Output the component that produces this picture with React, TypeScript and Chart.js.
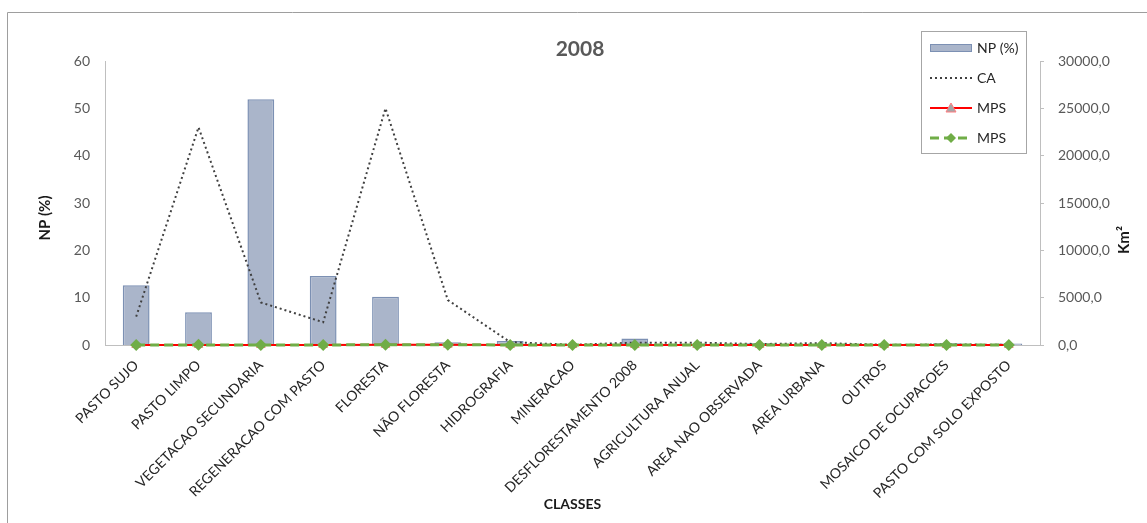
import React, { useEffect, useRef } from "react";
import { Chart, registerables } from "chart.js";

Chart.register(...registerables);

const TITLE = "2008";
const X_TITLE = "CLASSES";
const LEFT_TITLE = "NP (%)";
const RIGHT_TITLE = "Km²";

const CLASSES = [
  "PASTO SUJO",
  "PASTO LIMPO",
  "VEGETACAO SECUNDARIA",
  "REGENERACAO COM PASTO",
  "FLORESTA",
  "NÃO FLORESTA",
  "HIDROGRAFIA",
  "MINERACAO",
  "DESFLORESTAMENTO 2008",
  "AGRICULTURA ANUAL",
  "AREA NAO OBSERVADA",
  "AREA URBANA",
  "OUTROS",
  "MOSAICO DE OCUPACOES",
  "PASTO COM SOLO EXPOSTO",
];

// Number of patches, percent of total (left axis)
const NP = [12.6, 6.9, 51.9, 14.6, 10.2, 0.6, 0.85, 0.05, 1.35, 0.15, 0.35, 0.2, 0.2, 0.35, 0.3];

// Class area, km² (right axis)
const CA = [3000, 23000, 4500, 2400, 25000, 4750, 300, 20, 250, 250, 100, 200, 20, 50, 30];

// Mean patch size series (right axis)
const MPS_A = [4, 12, 2, 6, 20, 30, 3, 1, 2, 10, 3, 6, 1, 2, 1];
const MPS_B = [5, 14, 3, 7, 24, 35, 4, 1, 3, 12, 4, 7, 1, 2, 1];

const LEFT_TICKS = { min: 0, max: 60, step: 10 };
const RIGHT_TICKS = { min: 0, max: 30000, step: 5000 };

const FONT = "Lato";
const BAR_FILL = "rgb(170,181,202)";
const BAR_EDGE = "rgb(124,144,179)";
const CA_COLOR = "#404040";
const RED = "#ff0000";
const RED_MARK_FILL = "#a6a6a6";
const RED_MARK_EDGE = "#ff7c80";
const GREEN = "#70ad47";

const LEGEND_ITEMS = ["NP (%)", "CA", "MPS", "MPS"];

const overlay = {
  id: "overlay",
  afterDraw(chart: any) {
    const ctx: CanvasRenderingContext2D = chart.ctx;
    ctx.save();

    // outer frame
    ctx.strokeStyle = "#9e9e9e";
    ctx.lineWidth = 1;
    ctx.beginPath();
    ctx.moveTo(7.5, 523);
    ctx.lineTo(7.5, 12.5);
    ctx.lineTo(1147, 12.5);
    ctx.stroke();

    // chart title
    ctx.fillStyle = "#595959";
    ctx.font = `bold 21px ${FONT}`;
    ctx.textAlign = "center";
    ctx.textBaseline = "middle";
    ctx.fillText(TITLE, 580, 49);

    // axis titles (both read bottom to top)
    ctx.fillStyle = "#1a1a1a";
    ctx.font = `bold 15px ${FONT}`;
    ctx.save();
    ctx.translate(45, 218);
    ctx.rotate(-Math.PI / 2);
    ctx.fillText(LEFT_TITLE, 0, 0);
    ctx.restore();
    ctx.save();
    ctx.translate(1124, 240);
    ctx.rotate(-Math.PI / 2);
    ctx.fillText(RIGHT_TITLE, 0, 0);
    ctx.restore();

    // legend box
    ctx.strokeStyle = "#a6a6a6";
    ctx.strokeRect(921.5, 31.5, 105, 122);
    const rows = [48, 78, 108, 138];
    const x0 = 930;
    const x1 = 972;

    // NP swatch
    ctx.fillStyle = BAR_FILL;
    ctx.fillRect(x0, rows[0] - 4, x1 - x0, 8);
    ctx.strokeStyle = BAR_EDGE;
    ctx.lineWidth = 1;
    ctx.strokeRect(x0 + 0.5, rows[0] - 3.5, x1 - x0 - 1, 7);

    // CA swatch
    ctx.strokeStyle = CA_COLOR;
    ctx.lineWidth = 2;
    ctx.setLineDash([2, 3]);
    ctx.beginPath();
    ctx.moveTo(x0, rows[1]);
    ctx.lineTo(x1, rows[1]);
    ctx.stroke();
    ctx.setLineDash([]);

    // MPS red swatch
    ctx.strokeStyle = RED;
    ctx.lineWidth = 2;
    ctx.beginPath();
    ctx.moveTo(x0, rows[2]);
    ctx.lineTo(x1, rows[2]);
    ctx.stroke();
    ctx.fillStyle = RED_MARK_FILL;
    ctx.strokeStyle = RED_MARK_EDGE;
    ctx.lineWidth = 1;
    ctx.beginPath();
    ctx.moveTo(951, rows[2] - 5);
    ctx.lineTo(956, rows[2] + 4);
    ctx.lineTo(946, rows[2] + 4);
    ctx.closePath();
    ctx.fill();
    ctx.stroke();

    // MPS green swatch
    ctx.strokeStyle = GREEN;
    ctx.lineWidth = 3;
    ctx.setLineDash([9, 5]);
    ctx.beginPath();
    ctx.moveTo(x0, rows[3]);
    ctx.lineTo(x1, rows[3]);
    ctx.stroke();
    ctx.setLineDash([]);
    ctx.fillStyle = GREEN;
    ctx.beginPath();
    ctx.moveTo(951, rows[3] - 5);
    ctx.lineTo(956, rows[3]);
    ctx.lineTo(951, rows[3] + 5);
    ctx.lineTo(946, rows[3]);
    ctx.closePath();
    ctx.fill();

    // legend text
    ctx.fillStyle = "#262626";
    ctx.font = `14px ${FONT}`;
    ctx.textAlign = "left";
    ctx.textBaseline = "middle";
    LEGEND_ITEMS.forEach((t, i) => ctx.fillText(t, 977, rows[i]));

    ctx.restore();
  },
};

export default function App() {
  const ref = useRef<HTMLCanvasElement | null>(null);

  useEffect(() => {
    if (!ref.current) return;
    const chart = new Chart(ref.current, {
      type: "bar",
      data: {
        labels: CLASSES,
        datasets: [
          {
            type: "bar",
            label: "NP (%)",
            data: NP,
            yAxisID: "y",
            backgroundColor: BAR_FILL,
            borderColor: BAR_EDGE,
            borderWidth: 1.5,
            barPercentage: 0.43,
            categoryPercentage: 1,
            order: 4,
          },
          {
            type: "line",
            label: "CA",
            data: CA,
            yAxisID: "y1",
            borderColor: CA_COLOR,
            borderWidth: 2,
            borderDash: [2, 3],
            pointRadius: 0,
            tension: 0,
            fill: false,
            order: 3,
          },
          {
            type: "line",
            label: "MPS",
            data: MPS_A,
            yAxisID: "y1",
            borderColor: RED,
            borderWidth: 2,
            pointStyle: "triangle",
            pointRadius: 5,
            pointBackgroundColor: RED_MARK_FILL,
            pointBorderColor: RED_MARK_EDGE,
            pointBorderWidth: 1,
            tension: 0,
            fill: false,
            clip: false,
            order: 2,
          } as any,
          {
            type: "line",
            label: "MPS",
            data: MPS_B,
            yAxisID: "y1",
            borderColor: GREEN,
            borderWidth: 3,
            borderDash: [9, 5],
            pointStyle: "rectRot",
            pointRadius: 6,
            pointBackgroundColor: GREEN,
            pointBorderColor: GREEN,
            pointBorderWidth: 0,
            tension: 0,
            fill: false,
            clip: false,
            order: 1,
          } as any,
        ],
      },
      options: {
        responsive: false,
        animation: false,
        layout: { padding: { top: 61, left: 0, right: 0, bottom: 0 } },
        plugins: {
          legend: { display: false },
          title: { display: false },
          tooltip: { enabled: false },
        },
        scales: {
          x: {
            grid: { display: false },
            border: { display: true, color: "#bfbfbf", width: 1 },
            ticks: {
              autoSkip: false,
              maxRotation: 45,
              minRotation: 45,
              padding: 4,
              color: "#262626",
              font: { family: FONT, size: 14 },
            },
            title: {
              display: true,
              text: X_TITLE,
              color: "#1a1a1a",
              font: { family: FONT, size: 14, weight: "bold" },
              padding: { top: 0, bottom: 10 },
            },
            afterFit(s: any) {
              s.height = 178;
            },
          },
          y: {
            position: "left",
            min: LEFT_TICKS.min,
            max: LEFT_TICKS.max,
            grid: { display: false, drawTicks: false },
            border: { display: true, color: "#bfbfbf", width: 1 },
            ticks: {
              stepSize: LEFT_TICKS.step,
              padding: 15,
              color: "#595959",
              font: { family: FONT, size: 14 },
            },
            afterFit(s: any) {
              s.width = 105;
            },
          },
          y1: {
            position: "right",
            min: RIGHT_TICKS.min,
            max: RIGHT_TICKS.max,
            grid: {
              display: true,
              drawOnChartArea: false,
              drawTicks: true,
              tickLength: 4,
              color: "#bfbfbf",
            },
            border: { display: true, color: "#bfbfbf", width: 1 },
            ticks: {
              stepSize: RIGHT_TICKS.step,
              padding: 14,
              color: "#595959",
              font: { family: FONT, size: 14 },
              callback: (v: any) => Number(v).toFixed(1).replace(".", ","),
            },
            afterFit(s: any) {
              s.width = 107;
            },
          },
        },
      },
      plugins: [overlay],
    });
    return () => chart.destroy();
  }, []);

  return (
    <div style={{ position: "fixed", left: 0, top: 0, width: 1147, height: 523, background: "#fff" }}>
      <canvas ref={ref} width={1147} height={523} style={{ display: "block", width: 1147, height: 523 }} />
    </div>
  );
}
